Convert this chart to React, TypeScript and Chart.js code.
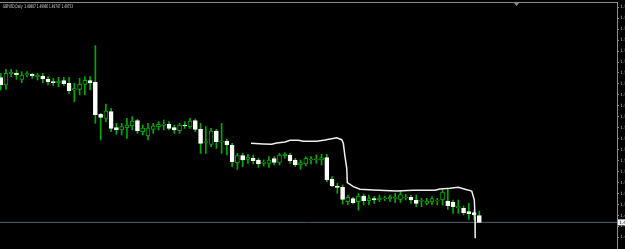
import { useEffect, useRef } from "react";
import { Chart, registerables } from "chart.js";

Chart.register(...registerables);

const headerText = "GBPUSD,Daily  1.49887 1.49980 1.49747 1.49753";

const opens = [
  1.52647, 1.525, 1.52727, 1.52733, 1.52613, 1.52707, 1.52713, 1.52667, 1.5268, 1.5262,
  1.52567, 1.5254, 1.52587, 1.52533, 1.524, 1.52413, 1.52513, 1.52587, 1.5256, 1.51913,
  1.51833, 1.51967, 1.51647, 1.516, 1.51647, 1.5168, 1.51787, 1.51567, 1.5148, 1.51613,
  1.51667, 1.51693, 1.5172, 1.51647, 1.51587, 1.517, 1.51667, 1.51787, 1.5162, 1.5135,
  1.51313, 1.5158, 1.5136, 1.5138, 1.513, 1.50947, 1.51087, 1.51013, 1.5104, 1.51,
  1.50933, 1.50933, 1.51027, 1.50953, 1.51087, 1.511, 1.51, 1.509, 1.5092, 1.51,
  1.51, 1.51, 1.51047, 1.5062, 1.5048, 1.50453, 1.50167, 1.50227, 1.50167, 1.5028,
  1.50187, 1.50227, 1.502, 1.50227, 1.50227, 1.50233, 1.5021, 1.5024, 1.5026, 1.50193,
  1.50173, 1.50133, 1.5016, 1.50187, 1.502, 1.5018, 1.50153, 1.50047, 1.50033, 1.49967,
  1.49947, 1.49887,
];

const highs = [
  1.52733, 1.52813, 1.52813, 1.528, 1.52767, 1.52767, 1.52733, 1.52733, 1.52733, 1.52667,
  1.52633, 1.52653, 1.52653, 1.52653, 1.52533, 1.52633, 1.52667, 1.52667, 1.53287, 1.51933,
  1.5212, 1.52033, 1.51733, 1.51733, 1.51833, 1.51867, 1.51813, 1.517, 1.51733, 1.51733,
  1.51767, 1.518, 1.51767, 1.517, 1.51733, 1.51767, 1.51833, 1.5182, 1.51733, 1.51667,
  1.51633, 1.51613, 1.51733, 1.51413, 1.51333, 1.51133, 1.51133, 1.51113, 1.511, 1.51033,
  1.51, 1.51067, 1.51067, 1.51133, 1.51147, 1.51133, 1.51033, 1.51, 1.51067, 1.51067,
  1.511, 1.51113, 1.51113, 1.50667, 1.50533, 1.505, 1.503, 1.50253, 1.50333, 1.5032,
  1.503, 1.50267, 1.503, 1.5028, 1.503, 1.50333, 1.5037, 1.50313, 1.50293, 1.503,
  1.50233, 1.50233, 1.50267, 1.50233, 1.504, 1.50413, 1.502, 1.502, 1.5008, 1.50133,
  1.5, 1.4998,
];

const lows = [
  1.524, 1.52413, 1.52667, 1.52613, 1.52547, 1.52667, 1.52633, 1.526, 1.52547, 1.525,
  1.52487, 1.52467, 1.52493, 1.52333, 1.52167, 1.523, 1.523, 1.524, 1.51733, 1.514,
  1.51767, 1.51567, 1.51513, 1.515, 1.51433, 1.516, 1.51533, 1.515, 1.514, 1.51533,
  1.516, 1.516, 1.516, 1.51533, 1.51533, 1.51633, 1.51633, 1.51567, 1.51133, 1.51133,
  1.51267, 1.51233, 1.51133, 1.511, 1.50867, 1.50813, 1.50867, 1.50933, 1.5092, 1.50853,
  1.5088, 1.50853, 1.509, 1.509, 1.51033, 1.50933, 1.50867, 1.50813, 1.5088, 1.5092,
  1.50933, 1.509, 1.50567, 1.50467, 1.50333, 1.5012, 1.501, 1.5012, 1.5, 1.501,
  1.501, 1.50133, 1.50167, 1.50187, 1.50167, 1.50147, 1.5015, 1.502, 1.50133, 1.50067,
  1.50067, 1.501, 1.501, 1.501, 1.501, 1.50013, 1.49933, 1.49933, 1.499, 1.49813,
  1.498, 1.49747,
];

const closes = [
  1.525, 1.52733, 1.52753, 1.52707, 1.527, 1.52727, 1.5268, 1.52693, 1.5262, 1.5256,
  1.52547, 1.5258, 1.52527, 1.52387, 1.52427, 1.52513, 1.52593, 1.5254, 1.51907, 1.51853,
  1.5198, 1.51633, 1.516, 1.51667, 1.517, 1.5178, 1.5158, 1.5164, 1.5164, 1.5168,
  1.51713, 1.5172, 1.51633, 1.516, 1.517, 1.5168, 1.5178, 1.51613, 1.51333, 1.5137,
  1.5158, 1.51367, 1.5138, 1.513, 1.50967, 1.51087, 1.51, 1.5106, 1.50987, 1.5092,
  1.5096, 1.51, 1.50953, 1.511, 1.51113, 1.50987, 1.50907, 1.50947, 1.51033, 1.5102,
  1.5102, 1.51047, 1.506, 1.5048, 1.50453, 1.50213, 1.50253, 1.50147, 1.5028, 1.50187,
  1.50227, 1.502, 1.5024, 1.5024, 1.50253, 1.50253, 1.5031, 1.5026, 1.502, 1.50133,
  1.50193, 1.5018, 1.50227, 1.502, 1.5036, 1.50087, 1.50067, 1.50067, 1.49947, 1.4992,
  1.499, 1.49753,
];

const bidPrice = 1.49753;

const tickValues = [
  1.54054, 1.53835, 1.53616, 1.53397, 1.53178, 1.52959, 1.5274, 1.52521, 1.52302, 1.52083,
  1.51864, 1.51645, 1.51426, 1.51207, 1.50988, 1.50769, 1.5055, 1.50331, 1.50112, 1.49893,
  1.49674, 1.49455,
];

// hand-drawn sketch line: x in bar-index units, y in price
const sketchX = [
  47.59, 49.93, 51.53, 52.48, 54.06, 55.01, 56.58, 57.53, 60.08, 61.66,
  63.88, 64.83, 65.14, 65.46, 65.79, 65.9, 67.04, 68.31, 70.84, 75.29,
  78.45, 82.57, 83.52, 85.42, 87.0, 87.95, 89.55, 89.85, 90.04, 90.18,
  90.23, 90.18,
];
const sketchY = [
  1.51334, 1.5132, 1.51314, 1.5134, 1.5136, 1.51394, 1.51394, 1.51374, 1.51374, 1.514,
  1.51446, 1.51406, 1.51334, 1.51066, 1.50834, 1.50546, 1.50466, 1.50414, 1.504, 1.5038,
  1.50394, 1.50394, 1.5042, 1.50434, 1.50454, 1.50426, 1.5038, 1.5027, 1.502, 1.49866,
  1.496, 1.49434,
];

const xMin = -0.13;
const xMax = 117.17;
const yMin = 1.4922;
const yMax = 1.5414;

const GREEN = "#00aa00";
const AXIS = "#8c8c8c";

export default function App() {
  const ref = useRef<HTMLCanvasElement | null>(null);

  useEffect(() => {
    const canvas = ref.current;
    if (!canvas) return;

    const framePlugin = {
      id: "mtFrame",
      beforeDraw(chart: any) {
        const { ctx, width, height } = chart;
        ctx.save();
        ctx.fillStyle = "#000000";
        ctx.fillRect(0, 0, width, height);
        ctx.restore();
      },
      afterDraw(chart: any) {
        const { ctx, chartArea } = chart;
        const ys = chart.scales.y;
        ctx.save();
        // top frame line
        ctx.fillStyle = AXIS;
        ctx.fillRect(0, chartArea.top - 1, chartArea.right + 1, 1);
        // chart shift marker
        ctx.beginPath();
        ctx.moveTo(514, chartArea.top);
        ctx.lineTo(519, chartArea.top);
        ctx.lineTo(516.5, chartArea.top + 3);
        ctx.closePath();
        ctx.fill();
        // header text
        ctx.fillStyle = "#d8d8d8";
        ctx.font = "5px 'DejaVu Sans'";
        ctx.textBaseline = "middle";
        ctx.textAlign = "left";
        ctx.fillText(headerText, 3, 7, 70);
        // bid label
        const by = ys.getPixelForValue(bidPrice);
        ctx.fillStyle = "#f2f2f2";
        ctx.fillRect(chartArea.right + 1, by - 3, 8, 6);
        ctx.fillStyle = "#000000";
        ctx.font = "4.5px 'DejaVu Sans'";
        ctx.fillText(bidPrice.toFixed(4), chartArea.right + 2, by);
        ctx.restore();
      },
    };

    const wickData = highs.map((h, i) => ({ x: i, y: [lows[i], h] }));
    const bodyData = opens.map((o, i) => ({ x: i, y: [o, closes[i]] }));
    const bull = opens.map((o, i) => closes[i] >= o);

    const chart = new Chart(canvas, {
      type: "bar",
      data: {
        datasets: [
          {
            type: "line",
            data: sketchX.map((x, i) => ({ x, y: sketchY[i] })),
            borderColor: "#eeeeee",
            borderWidth: 1.5,
            pointRadius: 0,
            tension: 0,
            order: 1,
          } as any,
          {
            type: "bar",
            data: bodyData as any,
            backgroundColor: bull.map((b) => (b ? "#000000" : "#ffffff")),
            borderColor: bull.map((b) => (b ? GREEN : "#ffffff")),
            borderWidth: 1,
            borderSkipped: false,
            barThickness: 4,
            grouped: false,
            order: 2,
          } as any,
          {
            type: "bar",
            data: wickData as any,
            backgroundColor: GREEN,
            borderWidth: 0,
            barThickness: 1,
            grouped: false,
            order: 3,
          } as any,
          {
            type: "line",
            data: [
              { x: xMin, y: bidPrice },
              { x: xMax, y: bidPrice },
            ],
            borderColor: "#56606c",
            borderWidth: 1,
            pointRadius: 0,
            order: 4,
          } as any,
        ],
      },
      options: {
        responsive: false,
        animation: false,
        devicePixelRatio: 1,
        layout: { padding: { top: 3, left: 0, right: 0, bottom: 0 } },
        plugins: {
          legend: { display: false },
          tooltip: { enabled: false },
          title: { display: false },
        },
        events: [],
        scales: {
          x: {
            type: "linear",
            min: xMin,
            max: xMax,
            offset: false,
            display: false,
          },
          y: {
            type: "linear",
            position: "right",
            min: yMin,
            max: yMax,
            afterBuildTicks: (s: any) => {
              s.ticks = tickValues.map((v) => ({ value: v }));
            },
            afterFit: (s: any) => {
              s.width = 8;
              s.paddingTop = 0;
              s.paddingBottom = 0;
            },
            ticks: {
              autoSkip: false,
              padding: 1,
              color: "#b8b8c0",
              font: { size: 4.5, family: "DejaVu Sans" },
              callback: (v: any) => Number(v).toFixed(4),
            },
            grid: {
              drawOnChartArea: false,
              drawTicks: true,
              tickLength: 2,
              color: AXIS,
            },
            border: { display: true, color: AXIS, width: 1 },
          },
        },
      } as any,
      plugins: [framePlugin],
    });

    return () => chart.destroy();
  }, []);

  return (
    <div style={{ position: "fixed", left: 0, top: 0, width: 625, height: 249, background: "#000" }}>
      <canvas ref={ref} width={625} height={249} style={{ display: "block" }} />
    </div>
  );
}
